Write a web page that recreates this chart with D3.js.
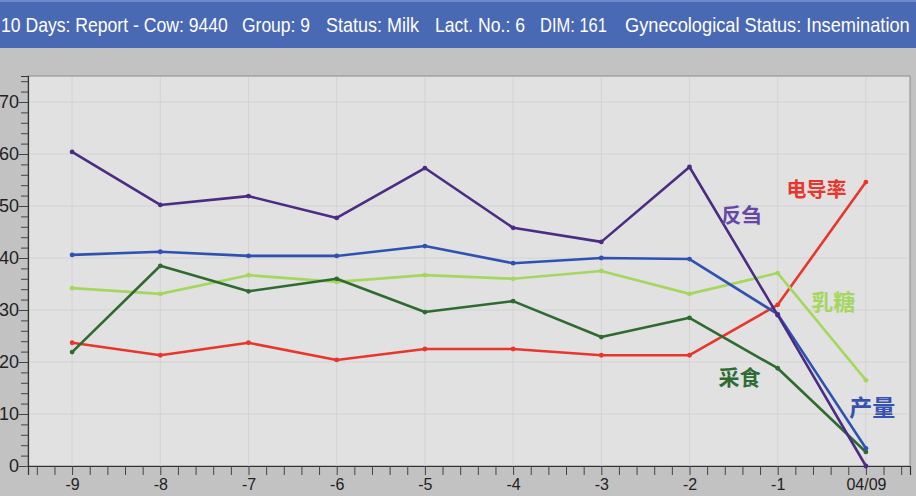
<!DOCTYPE html>
<html>
<head>
<meta charset="utf-8">
<script src="https://cdn.jsdelivr.net/npm/d3@7"></script>
<style>
  html, body { margin: 0; padding: 0; background: #c2c2c2; }
  #chart { width: 916px; height: 496px; }
</style>
</head>
<body>
<div id="chart"></div>
<script>
// categories (days before report)
const days = ["-9", "-8", "-7", "-6", "-5", "-4", "-3", "-2", "-1", "04/09"];
const yTicks = [0, 10, 20, 30, 40, 50, 60, 70];

// series values
const rumination = [60.4, 50.2, 51.9, 47.7, 57.3, 45.8, 43.1, 57.5, 29.0, 0];      // 反刍
const milkYield = [40.6, 41.2, 40.4, 40.4, 42.3, 39.0, 40.0, 39.8, 29.2, 3.4];     // 产量
const lactose = [34.2, 33.1, 36.7, 35.4, 36.7, 36.0, 37.5, 33.1, 37.1, 16.5];      // 乳糖
const feeding = [21.9, 38.5, 33.6, 36.0, 29.6, 31.7, 24.8, 28.5, 18.8, 2.7];       // 采食
const conductivity = [23.7, 21.3, 23.7, 20.4, 22.5, 22.5, 21.3, 21.3, 31.0, 54.6]; // 电导率

const seriesNames = ["反刍", "产量", "乳糖", "采食", "电导率"];
const seriesColors = ["#4a2d82", "#2f52b2", "#a5d75f", "#2f6b31", "#e8362c"];
const labelColors = ["#6447a6", "#3552b3", "#a5d75f", "#2f6b35", "#e8362c"];
// label anchor: [x in category units, y in value units], font size
const labelAt = [[-1.64, 46.8], [-0.19, 9.7], [-0.62, 30.0], [-1.67, 15.5], [-0.9, 51.8]];
const labelSize = [20, 23, 22, 21, 20];

// header pieces with their [left, right] pixel spans in the bar
const titleParts = ["10 Days: Report - Cow: 9440", "Group: 9", "Status: Milk", "Lact. No.: 6", "DIM: 161", "Gynecological Status: Insemination"];
const titleSpans = [[1, 228], [242, 310], [326, 419], [435, 525], [540, 607], [625, 910]];

const width = 916, height = 496;
const plot = { left: 28, top: 76, right: 910, bottom: 466 };

const svg = d3.select("#chart").append("svg")
    .attr("width", width)
    .attr("height", height)
    .style("display", "block");

// background
svg.append("rect").attr("width", width).attr("height", height).attr("fill", "#c2c2c2");

// title bar
svg.append("rect").attr("x", 0).attr("y", 0).attr("width", width).attr("height", 48).attr("fill", "#4a69b5");
svg.append("rect").attr("x", 0).attr("y", 0).attr("width", width).attr("height", 2).attr("fill", "#6f8cc9");
svg.append("g").selectAll("text")
    .data(titleParts)
    .enter().append("text")
    .attr("fill", "#ffffff")
    .style("font-family", "'Liberation Sans', Arial, sans-serif")
    .style("font-size", "20px")
    .text(d => d)
    .each(function (d, i) {
        const w = this.getComputedTextLength();
        const span = titleSpans[i];
        const sx = (span[1] - span[0]) / w;
        d3.select(this).attr("transform", `translate(${span[0]},32) scale(${sx},1)`);
    });

// scales
const x = d3.scaleLinear().domain([-9.5, 0.5]).range([plot.left, plot.right]);
const y = d3.scaleLinear().domain([0, 75]).range([plot.bottom, plot.top]);
const xi = (i) => x(i - 9);

// plot area
svg.append("rect")
    .attr("x", plot.left).attr("y", plot.top)
    .attr("width", plot.right - plot.left).attr("height", plot.bottom - plot.top)
    .attr("fill", "#e1e1e1")
    .attr("stroke", "#8c8c8c")
    .attr("stroke-width", 1);

// grid
svg.append("g").selectAll("line")
    .data(yTicks.filter(d => d > 0))
    .enter().append("line")
    .attr("x1", plot.left + 1).attr("x2", plot.right - 1)
    .attr("y1", d => y(d)).attr("y2", d => y(d))
    .attr("stroke", "#d3d3d3").attr("stroke-width", 1);

svg.append("g").selectAll("line")
    .data(days)
    .enter().append("line")
    .attr("x1", (d, i) => xi(i)).attr("x2", (d, i) => xi(i))
    .attr("y1", plot.top + 1).attr("y2", plot.bottom)
    .attr("stroke", "#d3d3d3").attr("stroke-width", 1);

// y axis
const yAxis = d3.axisLeft(y)
    .tickValues(d3.range(0, 76, 2))
    .tickSize(7)
    .tickFormat(d => yTicks.includes(d) ? d : "");
const gy = svg.append("g")
    .attr("transform", `translate(${plot.left},0)`)
    .call(yAxis);
gy.select(".domain").attr("stroke", "#333").attr("stroke-width", 1.2);
gy.selectAll(".tick line").attr("stroke", "#444")
    .attr("x2", d => yTicks.includes(d) ? -9 : -7);
gy.selectAll(".tick text")
    .attr("x", -9)
    .attr("fill", "#222")
    .style("font-family", "'Liberation Sans', Arial, sans-serif")
    .style("font-size", "18px");

// x axis with minor ticks (5 per day)
const minor = d3.range(-9.4, 0.5, 0.2).map(v => Math.round(v * 10) / 10);
const xAxis = d3.axisBottom(x)
    .tickValues(minor)
    .tickSize(9)
    .tickFormat(d => {
        const i = Math.round(d + 9);
        return Math.abs(d - (i - 9)) < 0.01 ? days[i] : "";
    });
const gx = svg.append("g")
    .attr("transform", `translate(0,${plot.bottom})`)
    .call(xAxis);
gx.select(".domain").attr("stroke", "#333").attr("stroke-width", 1.2);
gx.selectAll(".tick line").attr("stroke", "#444");
gx.selectAll(".tick text")
    .attr("y", 13)
    .attr("fill", "#222")
    .style("font-family", "'Liberation Sans', Arial, sans-serif")
    .style("font-size", "16px");

// lines
const allSeries = [rumination, milkYield, lactose, feeding, conductivity];
const line = d3.line()
    .x((d, i) => xi(i))
    .y(d => y(d));

// draw order: rumination on top near the end
const order = [4, 2, 3, 1, 0];
order.forEach(k => {
    svg.append("path")
        .datum(allSeries[k])
        .attr("fill", "none")
        .attr("stroke", seriesColors[k])
        .attr("stroke-width", 2.6)
        .attr("stroke-linejoin", "round")
        .attr("d", line);
    svg.append("g").selectAll("circle")
        .data(allSeries[k])
        .enter().append("circle")
        .attr("cx", (d, i) => xi(i))
        .attr("cy", d => y(d))
        .attr("r", 2.4)
        .attr("fill", seriesColors[k]);
});

// series labels
svg.append("g").selectAll("text")
    .data(seriesNames)
    .enter().append("text")
    .attr("x", (d, i) => x(labelAt[i][0]))
    .attr("y", (d, i) => y(labelAt[i][1]))
    .attr("fill", (d, i) => labelColors[i])
    .style("font-family", "'Noto Sans CJK SC', sans-serif")
    .style("font-weight", "bold")
    .style("font-size", (d, i) => labelSize[i] + "px")
    .text(d => d);
</script>
</body>
</html>
